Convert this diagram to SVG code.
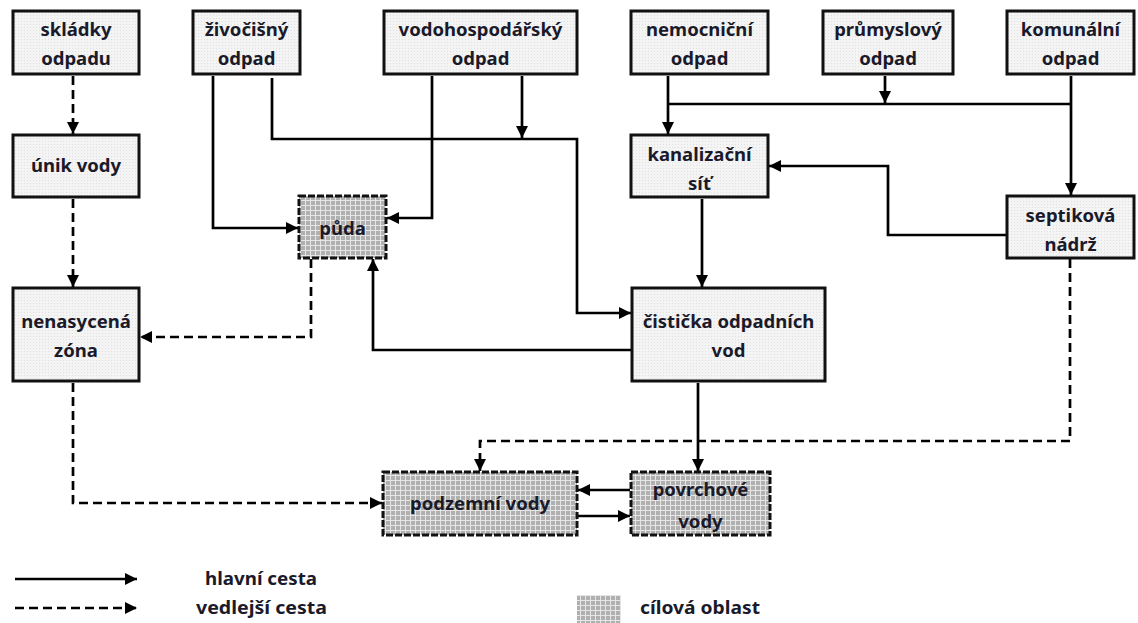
<svg xmlns="http://www.w3.org/2000/svg" width="1138" height="623" viewBox="0 0 1138 623">
<defs>
<pattern id="light" width="3" height="3" patternUnits="userSpaceOnUse">
<rect width="3" height="3" fill="#f4f4f4"/>
<rect width="1" height="1" fill="#e0e0e0"/>
</pattern>
<pattern id="grid" width="5" height="5" patternUnits="userSpaceOnUse">
<rect width="5" height="5" fill="#e6e6e6"/>
<rect x="1" y="1" width="4" height="4" fill="#b0b0b0"/>
</pattern>
<marker id="ah" viewBox="0 0 10 10" refX="10" refY="5" markerWidth="12" markerHeight="12" markerUnits="userSpaceOnUse" orient="auto">
<path d="M0,0 L10,5 L0,10 z" fill="#000"/>
</marker>
</defs>
<style>
.box rect{fill:url(#light);stroke:#111;stroke-width:3}
.tgt rect{fill:url(#grid);stroke:#111;stroke-width:3;stroke-dasharray:7 2}
text{font-family:"Noto Sans","Liberation Sans",sans-serif;font-weight:bold;font-size:18.5px;fill:#1a1a2a;text-anchor:middle}
.leg{font-size:18px;text-anchor:start}
#connectors path{fill:none;stroke:#000;stroke-width:2.7;marker-end:url(#ah)}
#connectors path.nm{marker-end:none}
#connectors path.d{stroke-dasharray:9 5}
</style>
<rect width="1138" height="623" fill="#fff"/>
<g id="connectors">
<path class="d" d="M73,76 V134"/>
<path class="d" d="M73,199 V287"/>
<path d="M213,76 V228 H298"/>
<path d="M272,78 V139 H577 V313 H631"/>
<path d="M432,76 V218 H387"/>
<path d="M522,76 V138"/>
<path d="M668,76 V134"/>
<path class="nm" d="M668,104 H1071"/>
<path d="M885,76 V103"/>
<path d="M1071,76 V195"/>
<path d="M1006,235 H888 V166 H769"/>
<path d="M702,199 V287"/>
<path d="M631,350 H373 V259"/>
<path class="d" d="M311,259 V337 H140"/>
<path class="d" d="M73,383 V503 H382"/>
<path d="M698,383 V471"/>
<path class="d" d="M1070,259 V441 H480 V471"/>
<path d="M630,490 H578"/>
<path d="M578,516 H630"/>
<path d="M15,579 H137"/>
<path class="d" d="M15,608 H137"/>
</g>
<g id="n-skladky" class="box"><rect x="13" y="11" width="126" height="63"/><text x="76" y="36">skládky</text><text x="76" y="65">odpadu</text></g>
<g id="n-unik" class="box"><rect x="13" y="135" width="126" height="62"/><text x="76" y="172">únik vody</text></g>
<g id="n-nenasycena" class="box"><rect x="13" y="288" width="126" height="93"/><text x="76" y="328">nenasycená</text><text x="76" y="357">zóna</text></g>
<g id="n-zivocisny" class="box"><rect x="193" y="11" width="107" height="63"/><text x="246.5" y="36">živočišný</text><text x="246.5" y="65">odpad</text></g>
<g id="n-vodohosp" class="box"><rect x="384" y="11" width="193" height="63"/><text x="480.5" y="36">vodohospodářský</text><text x="480.5" y="65">odpad</text></g>
<g id="n-nemocnicni" class="box"><rect x="631" y="11" width="137" height="63"/><text x="699.5" y="36">nemocniční</text><text x="699.5" y="65">odpad</text></g>
<g id="n-prumyslovy" class="box"><rect x="823" y="11" width="130" height="63"/><text x="888" y="36">průmyslový</text><text x="888" y="65">odpad</text></g>
<g id="n-komunalni" class="box"><rect x="1007" y="11" width="127" height="63"/><text x="1070.5" y="36">komunální</text><text x="1070.5" y="65">odpad</text></g>
<g id="n-kanalizacni" class="box"><rect x="631" y="135" width="137" height="62"/><text x="699.5" y="161">kanalizační</text><text x="699.5" y="190">síť</text></g>
<g id="n-septikova" class="box"><rect x="1007" y="196" width="127" height="62"/><text x="1070.5" y="222">septiková</text><text x="1070.5" y="251">nádrž</text></g>
<g id="n-pud" class="tgt"><rect x="299" y="196" width="87" height="62"/><text x="342.5" y="235">půda</text></g>
<g id="n-cisticka" class="box"><rect x="632" y="288" width="193" height="93"/><text x="728.5" y="328">čistička odpadních</text><text x="728.5" y="357">vod</text></g>
<g id="n-podzemni" class="tgt"><rect x="383" y="472" width="194" height="63"/><text x="480" y="510">podzemní vody</text></g>
<g id="n-povrchove" class="tgt"><rect x="631" y="472" width="139" height="63"/><text x="700.5" y="496">povrchové</text><text x="700.5" y="528">vody</text></g>
<g id="legend">
<text class="leg" x="205" y="585" textLength="112" lengthAdjust="spacingAndGlyphs">hlavní cesta</text>
<text class="leg" x="196" y="614" textLength="131" lengthAdjust="spacingAndGlyphs">vedlejší cesta</text>
<rect x="577" y="595" width="44" height="28" fill="url(#grid)"/>
<text class="leg" x="640" y="614" textLength="120" lengthAdjust="spacingAndGlyphs">cílová oblast</text>
</g>
</svg>
